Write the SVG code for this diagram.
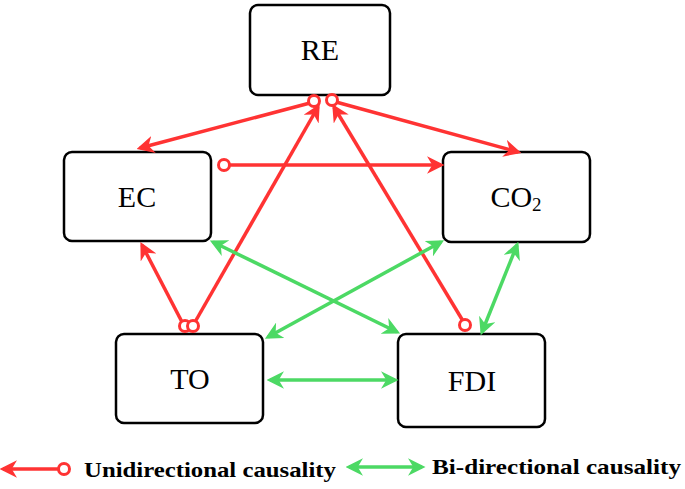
<svg xmlns="http://www.w3.org/2000/svg" width="685" height="489" viewBox="0 0 685 489">
<style>
.box{fill:#fff;stroke:#000;stroke-width:2.5}
.lbl{font-family:"Liberation Serif","Times New Roman",serif;font-size:30px;text-anchor:middle}
.r{stroke:#f33;stroke-width:3.5;fill:none}
.g{stroke:#4cd964;stroke-width:3.5;fill:none}
.c{fill:#fff;stroke:#f33;stroke-width:3}
.leg{font-family:"Liberation Serif","Times New Roman",serif;font-size:22px;font-weight:bold}
</style>
<defs>
<marker id="ar" viewBox="0 0 10 10" refX="8" refY="5" markerWidth="5" markerHeight="5" orient="auto-start-reverse"><path d="M0,0 L10,5 L0,10 L3,5 Z" fill="#f33"/></marker>
<marker id="ag" viewBox="0 0 10 10" refX="8" refY="5" markerWidth="5" markerHeight="5" orient="auto-start-reverse"><path d="M0,0 L10,5 L0,10 L3,5 Z" fill="#4cd964"/></marker>
</defs>
<g id="RE"><rect class="box" x="250" y="5" width="140" height="90" rx="8"/><text class="lbl" x="320" y="60">RE</text></g>
<g id="EC"><rect class="box" x="64" y="152" width="147" height="89" rx="8"/><text class="lbl" x="137" y="207">EC</text></g>
<g id="CO2"><rect class="box" x="443" y="152" width="147" height="90" rx="8"/><text class="lbl" x="516" y="207">CO<tspan font-size="19" dy="4">2</tspan></text></g>
<g id="TO"><rect class="box" x="116" y="334" width="147" height="89" rx="8"/><text class="lbl" x="190" y="389">TO</text></g>
<g id="FDI"><rect class="box" x="398" y="334" width="147" height="93" rx="8"/><text class="lbl" x="472" y="391">FDI</text></g>
<g id="connectors">
<line class="r" x1="310" y1="103" x2="140" y2="148" marker-end="url(#ar)"/>
<line class="r" x1="336" y1="102" x2="518" y2="152" marker-end="url(#ar)"/>
<line class="r" x1="222" y1="165" x2="441" y2="165" marker-end="url(#ar)"/>
<line class="r" x1="182" y1="322" x2="142" y2="245" marker-end="url(#ar)"/>
<line class="r" x1="195" y1="322" x2="318" y2="107" marker-end="url(#ar)"/>
<line class="r" x1="463" y1="321" x2="334" y2="107" marker-end="url(#ar)"/>
<circle class="c" cx="314" cy="101" r="5.5"/>
<circle class="c" cx="332" cy="100" r="5.5"/>
<circle class="c" cx="224" cy="165" r="5.5"/>
<circle class="c" cx="185" cy="326" r="5.5"/>
<circle class="c" cx="193" cy="326" r="5.5"/>
<circle class="c" cx="465" cy="325" r="5.5"/>
<line class="g" x1="213" y1="242" x2="397" y2="332" marker-start="url(#ag)" marker-end="url(#ag)"/>
<line class="g" x1="441" y1="242" x2="268" y2="337" marker-start="url(#ag)" marker-end="url(#ag)"/>
<line class="g" x1="517" y1="245" x2="482" y2="332" marker-start="url(#ag)" marker-end="url(#ag)"/>
<line class="g" x1="270" y1="380" x2="395" y2="380" marker-start="url(#ag)" marker-end="url(#ag)"/>
</g>
<g id="legend">
<line class="r" x1="3" y1="469" x2="62" y2="469" marker-start="url(#ar)"/>
<circle class="c" cx="64" cy="469" r="5.5"/>
<text class="leg" x="84" y="477" textLength="252" lengthAdjust="spacingAndGlyphs">Unidirectional causality</text>
<line class="g" x1="349" y1="467" x2="422" y2="467" marker-start="url(#ag)" marker-end="url(#ag)"/>
<text class="leg" x="432" y="474" textLength="249" lengthAdjust="spacingAndGlyphs">Bi-directional causality</text>
</g>
</svg>
